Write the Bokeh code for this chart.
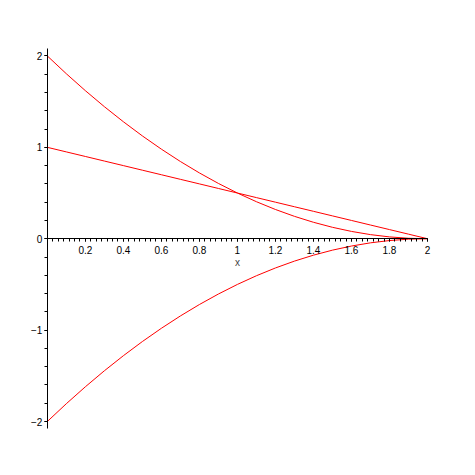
from bokeh.plotting import figure
from bokeh.models import Range1d, SingleIntervalTicker, CustomJSTickFormatter
from bokeh.embed import file_html
from bokeh.resources import INLINE

xs = [0.0, 0.1, 0.2, 0.3, 0.4, 0.5, 0.6, 0.7, 0.8, 0.9, 1.0,
      1.1, 1.2, 1.3, 1.4, 1.5, 1.6, 1.7, 1.8, 1.9, 2.0]
upper = [2.0, 1.805, 1.62, 1.445, 1.28, 1.125, 0.98, 0.845, 0.72, 0.605, 0.5,
         0.405, 0.32, 0.245, 0.18, 0.125, 0.08, 0.045, 0.02, 0.005, 0.0]
middle = [1.0, 0.95, 0.9, 0.85, 0.8, 0.75, 0.7, 0.65, 0.6, 0.55, 0.5,
          0.45, 0.4, 0.35, 0.3, 0.25, 0.2, 0.15, 0.1, 0.05, 0.0]
lower = [-2.0, -1.805, -1.62, -1.445, -1.28, -1.125, -0.98, -0.845, -0.72, -0.605, -0.5,
         -0.405, -0.32, -0.245, -0.18, -0.125, -0.08, -0.045, -0.02, -0.005, 0.0]

FONT = "Liberation Sans"

p = figure(frame_width=422, frame_height=404,
           x_range=Range1d(-0.12, 2.1), y_range=Range1d(-2.12, 2.3),
           output_backend="svg", toolbar_location=None,
           min_border_left=24, min_border_top=28,
           min_border_right=5, min_border_bottom=5)
p.outline_line_color = None
p.xgrid.visible = False
p.ygrid.visible = False
p.background_fill_color = "white"

for ys in (upper, middle, lower):
    p.line(xs, ys, line_color="#ff0000", line_width=1)

xa = p.xaxis[0]
xa.fixed_location = 0
xa.bounds = (0, 2)
xa.ticker = SingleIntervalTicker(interval=0.2, num_minor_ticks=7)
xa.formatter = CustomJSTickFormatter(code="""
if (Math.abs(tick) < 1e-9) return "";
return String(parseFloat(tick.toFixed(2)));
""")
xa.axis_label = "x"
xa.axis_label_text_font = FONT
xa.axis_label_text_font_size = "10px"
xa.axis_label_text_font_style = "normal"
xa.axis_label_standoff = 0

ya = p.yaxis[0]
ya.fixed_location = 0
ya.bounds = (-2.08, 2.08)
ya.ticker = SingleIntervalTicker(interval=1, num_minor_ticks=5)

for ax in (xa, ya):
    ax.axis_line_color = "black"
    ax.axis_line_width = 1
    ax.major_tick_in = 0
    ax.major_tick_out = 3
    ax.minor_tick_in = 0
    ax.minor_tick_out = 3
    ax.major_tick_line_color = "black"
    ax.minor_tick_line_color = "black"
    ax.major_label_text_font = FONT
    ax.major_label_text_font_size = "10px"
    ax.major_label_text_color = "black"

xa.major_label_standoff = 4
ya.major_label_standoff = 2

open("out.html", "w").write(file_html(p, INLINE))
